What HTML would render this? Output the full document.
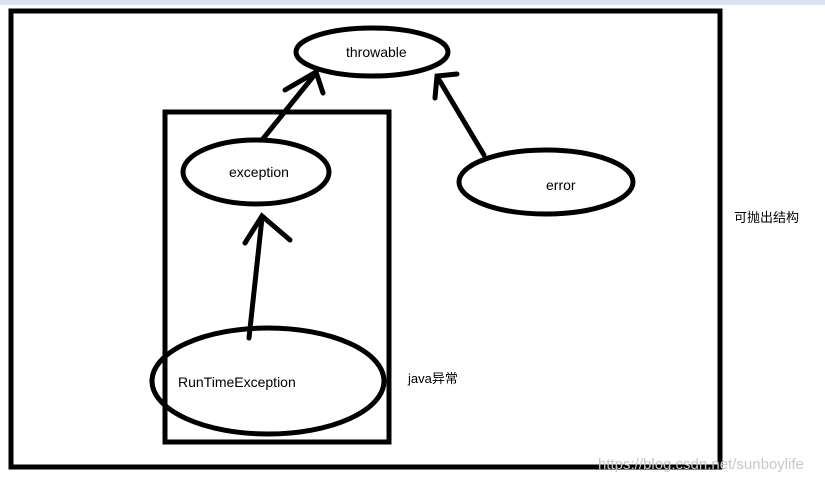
<!DOCTYPE html>
<html><head><meta charset="utf-8"><style>
html,body{margin:0;padding:0;background:#fff;}
svg{display:block;}
text{font-family:"Liberation Sans","Noto Sans CJK SC",sans-serif;font-size:14px;fill:#000;}
</style></head><body>
<svg width="825" height="482" viewBox="0 0 825 482" xmlns="http://www.w3.org/2000/svg">
<rect x="0" y="0" width="825" height="5" fill="#dde3ee"/>
<g fill="none" stroke="#000" stroke-width="5" stroke-linecap="round">
<rect x="11" y="11" width="709" height="456" stroke-linecap="butt"/>
<rect x="165" y="112" width="224" height="330" stroke-linecap="butt"/>
<ellipse cx="372" cy="52" rx="76" ry="24"/>
<ellipse cx="256" cy="172" rx="73" ry="32"/>
<ellipse cx="546" cy="182" rx="87" ry="32"/>
<ellipse cx="268" cy="381" rx="116" ry="53"/>
<line x1="262" y1="140" x2="316" y2="73"/>
<polyline points="285,90 316,72 323,93"/>
<line x1="484" y1="155" x2="438" y2="78"/>
<polyline points="435,98 437,76 457,74"/>
<line x1="249" y1="338" x2="262" y2="218"/>
<polyline points="245,243 262,216 290,240"/>
</g>
<text x="346" y="57">throwable</text>
<text x="229" y="177">exception</text>
<text x="546" y="190">error</text>
<text x="178" y="387">RunTimeException</text>
<text x="408" y="383" style="font-size:13px">java异常</text>
<text x="734" y="222" style="font-size:13px">可抛出结构</text>
<text x="598" y="469" style="font-size:15px;fill:#c8c8c8">https://blog.csdn.net/sunboylife</text>
</svg>
</body></html>
